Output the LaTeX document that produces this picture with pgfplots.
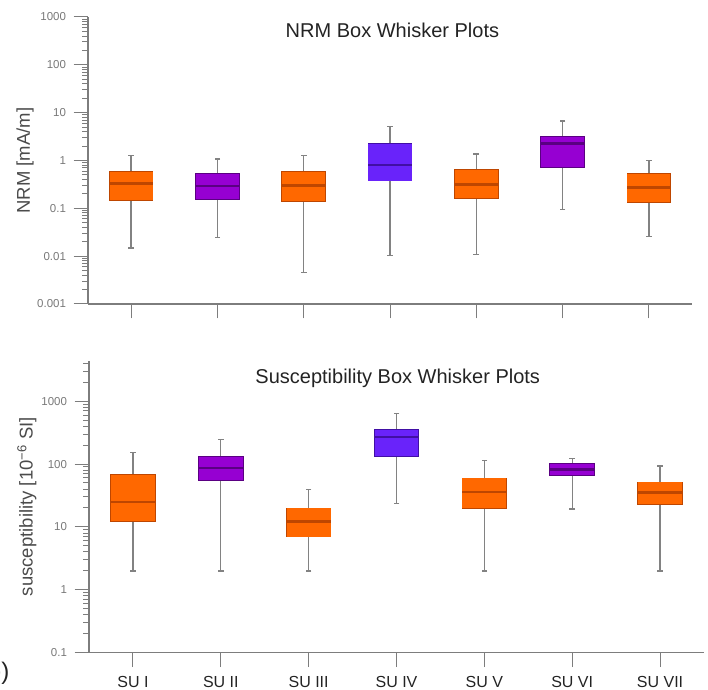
\documentclass[border=0pt]{standalone}
\usepackage{fontspec}
\setmainfont{Liberation Sans}
\usepackage{pgfplots}
\usepackage{pgfplotstable}
\pgfplotsset{compat=1.18}

\definecolor{orF}{RGB}{255,104,0}
\definecolor{orD}{RGB}{190,70,0}
\definecolor{purF}{RGB}{150,0,210}
\definecolor{purD}{RGB}{90,0,130}
\definecolor{vioF}{RGB}{105,35,250}
\definecolor{vioD}{RGB}{65,15,165}
\definecolor{axgray}{RGB}{125,125,125}
\definecolor{whgray}{RGB}{130,130,130}
\definecolor{lblgray}{RGB}{120,120,120}
\definecolor{txtdark}{RGB}{35,35,35}
\definecolor{ylabgray}{RGB}{75,75,75}

% NRM [mA/m]: position, lower whisker, lower quartile, median, upper quartile, upper whisker
\pgfplotstableread{
x lw lq med uq uw
1 0.0149 0.149 0.33 0.57 1.28
3 0.0045 0.144 0.30 0.57 1.28
5 0.011 0.166 0.316 0.63 1.36
7 0.026 0.135 0.27 0.53 1.0
}\nrmOr
\pgfplotstableread{
x lw lq med uq uw
2 0.0246 0.156 0.29 0.53 1.07
6 0.095 0.74 2.27 3.13 6.7
}\nrmPu
\pgfplotstableread{
x lw lq med uq uw
4 0.0103 0.38 0.80 2.24 5.2
}\nrmVi
% susceptibility [1e-6 SI]
\pgfplotstableread{
x lw lq med uq uw
1 2.0 12.2 25 66.7 153
3 2.0 7.0 12.2 19.7 39.5
5 2.0 20.1 35.7 59 115
7 2.0 23.3 35.3 51 92.6
}\susOr
\pgfplotstableread{
x lw lq med uq uw
2 2.0 55 86 130 246
6 19.2 66.7 82 99.6 124
}\susPu
\pgfplotstableread{
x lw lq med uq uw
4 23.6 135 271 346 637
}\susVi

\pgfplotsset{
  whisk/.style={draw=none, mark=none, forget plot,
    error bars/.cd, y dir=both, y explicit, error mark=none,
    error bar style={draw=whgray, line width=1.3bp}},
  capmark/.style={only marks, forget plot, mark=-, mark size=2.8bp,
    mark options={draw=whgray, line width=1.3bp}},
  boxbar/.style 2 args={draw=none, mark=none, forget plot,
    error bars/.cd, y dir=both, y explicit, error mark=none,
    error bar style={draw=#1, line width=#2}},
  boxedge/.style 2 args={draw=none, mark=none, forget plot,
    error bars/.cd, y dir=both, y explicit, error mark=none,
    error bar style={draw=#1, line width=#2, shorten <=-0.8bp, shorten >=-0.8bp}},
  medmark/.style 2 args={only marks, forget plot, mark=-, mark size=#2,
    mark options={draw=#1, line width=2.4bp}},
  panel/.style={
    scale only axis,
    xmin=0.5, xmax=7.5,
    axis x line*=bottom, axis y line*=left,
    axis line style={draw=axgray, line width=1.2bp},
    tick style={draw=axgray, line width=1bp},
    tick align=outside,
    major tick length=14.5bp,
    minor tick length=6bp,
    xtick={1,2,3,4,5,6,7},
    yticklabel style={font=\fontsize{11.5bp}{13bp}\selectfont, text=lblgray, xshift=-4bp},
    xticklabel style={font=\fontsize{16bp}{19bp}\selectfont, text=txtdark, yshift=-6bp},
  },
}

\newcommand{\drawgroup}[5]{%
  % #1 table, #2 fill colour, #3 dark colour, #4 box width, #5 box width + edge
  \addplot[whisk] table[x=x, y=med, y error plus expr=\thisrow{uw}-\thisrow{med}, y error minus expr=\thisrow{med}-\thisrow{lw}] {#1};
  \addplot[capmark] table[x=x, y=uw] {#1};
  \addplot[capmark] table[x=x, y=lw] {#1};
  \addplot[boxedge={#3}{#5}] table[x=x, y=med, y error plus expr=\thisrow{uq}-\thisrow{med}, y error minus expr=\thisrow{med}-\thisrow{lq}] {#1};
  \addplot[boxbar={#2}{#4}] table[x=x, y=med, y error plus expr=\thisrow{uq}-\thisrow{med}, y error minus expr=\thisrow{med}-\thisrow{lq}] {#1};
  \addplot[medmark={#3}{0.5*#4}] table[x=x, y=med] {#1};
}

\begin{document}
\begin{tikzpicture}[x=1bp,y=1bp]
\useasboundingbox (0,0) rectangle (708,690);

% ---------------- top: NRM ----------------
\begin{axis}[panel,
  at={(88bp,386bp)}, anchor=south west,
  width=604bp, height=287bp,
  ymode=log,
  ymin=0.001, ymax=1000,
  xticklabels={},
  ytick={0.001,0.01,0.1,1,10,100,1000},
  yticklabels={0.001,0.01,0.1,1,10,100,1000},
  minor ytick={0.002,0.003,0.004,0.005,0.006,0.007,0.008,0.009,
               0.02,0.03,0.04,0.05,0.06,0.07,0.08,0.09,
               0.2,0.3,0.4,0.5,0.6,0.7,0.8,0.9,
               2,3,4,5,6,7,8,9,
               20,30,40,50,60,70,80,90,
               200,300,400,500,600,700,800,900},
  ylabel={NRM [mA/m]},
  ylabel style={at={(axis description cs:-0.104,0.5)}, anchor=center,
      font=\fontsize{18.5bp}{22bp}\selectfont, text=ylabgray},
  title={NRM Box Whisker Plots},
  title style={at={(axis description cs:0.504,0.909)}, anchor=base, yshift=0pt,
    font=\fontsize{20bp}{24bp}\selectfont, text=txtdark},
]
\drawgroup{\nrmOr}{orF}{orD}{43.1bp}{44.7bp}
\drawgroup{\nrmPu}{purF}{purD}{43.1bp}{44.7bp}
\drawgroup{\nrmVi}{vioF}{vioD}{43.1bp}{44.7bp}
\end{axis}

% ---------------- bottom: susceptibility ----------------
\begin{axis}[panel,
  at={(89bp,37.3bp)}, anchor=south west,
  width=615bp, height=292bp,
  ymode=log,
  ymin=0.1, ymax=4400,
  xticklabels={SU I,SU II,SU III,SU IV,SU V,SU VI,SU VII},
  ytick={0.1,1,10,100,1000},
  yticklabels={0.1,1,10,100,1000},
  minor ytick={0.2,0.3,0.4,0.5,0.6,0.7,0.8,0.9,
               2,3,4,5,6,7,8,9,
               20,30,40,50,60,70,80,90,
               200,300,400,500,600,700,800,900,
               2000,3000,4000},
  ylabel={susceptibility [10\textsuperscript{−6} SI]},
  ylabel style={at={(axis description cs:-0.101,0.5)}, anchor=center,
      font=\fontsize{18.5bp}{22bp}\selectfont, text=ylabgray},
  title={Susceptibility Box Whisker Plots},
  title style={at={(axis description cs:0.502,0.903)}, anchor=base, yshift=0pt,
    font=\fontsize{20bp}{24bp}\selectfont, text=txtdark},
]
\drawgroup{\susOr}{orF}{orD}{43.9bp}{45.5bp}
\drawgroup{\susPu}{purF}{purD}{43.9bp}{45.5bp}
\drawgroup{\susVi}{vioF}{vioD}{43.9bp}{45.5bp}
\end{axis}

\node[anchor=base east, inner sep=0, font=\fontsize{24bp}{28bp}\selectfont, text=txtdark] at (9.5,10) {b)};
\end{tikzpicture}
\end{document}
